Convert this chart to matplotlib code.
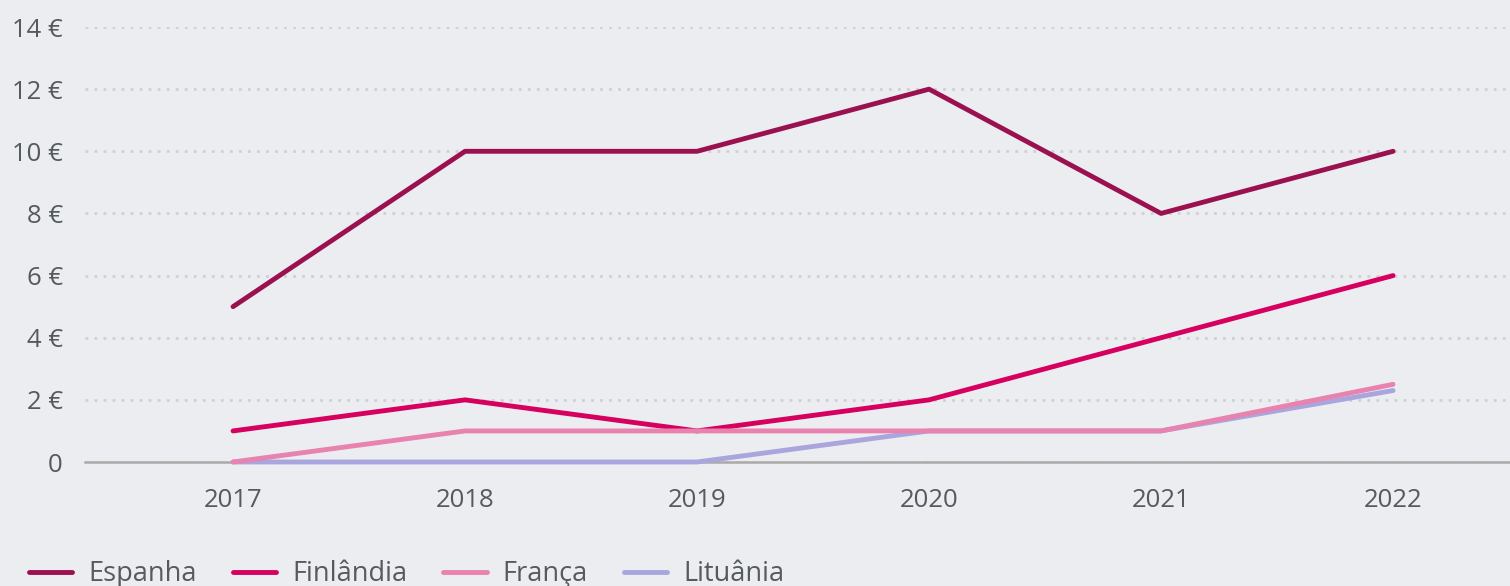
import matplotlib.pyplot as plt

# Data
years = [2017, 2018, 2019, 2020, 2021, 2022]
espanha = [5, 10, 10, 12, 8, 10]
finlandia = [1, 2, 1, 2, 4, 6]
franca = [0, 1, 1, 1, 1, 2.5]
lituania = [0, 0, 0, 1, 1, 2.3]
y_ticks = [0, 2, 4, 6, 8, 10, 12, 14]
y_labels = ['0', '2 €', '4 €', '6 €', '8 €', '10 €', '12 €', '14 €']

bg = '#ecedf1'
txt = '#555a5e'
plt.rcParams['font.family'] = ['Open Sans', 'DejaVu Sans']

fig = plt.figure(figsize=(15.1, 5.86), dpi=100, facecolor=bg)
ax = fig.add_axes([0.0563, 0.2116, 0.9437, 0.7423], facecolor=bg)

ax.plot(years, espanha, color='#9b1150', lw=3.5, label='Espanha', zorder=3,
        solid_capstyle='round')
ax.plot(years, finlandia, color='#d6005f', lw=3.5, label='Finlândia', zorder=3,
        solid_capstyle='round')
ax.plot(years, franca, color='#e882ae', lw=3.5, label='França', zorder=5,
        solid_capstyle='round')
ax.plot(years, lituania, color='#a9a6dd', lw=3.5, label='Lituânia', zorder=4,
        solid_capstyle='round')

ax.set_xlim(2016.362, 2022.504)
ax.set_ylim(0, 14)
ax.set_xticks(years)
ax.set_yticks(y_ticks)
ax.set_yticklabels(y_labels)
ax.tick_params(axis='both', length=0, labelsize=18.5, labelcolor=txt)
ax.tick_params(axis='x', pad=19)
ax.tick_params(axis='y', pad=16)

for s in ['top', 'right', 'left']:
    ax.spines[s].set_visible(False)
ax.spines['bottom'].set_color('#aaaaaa')
ax.spines['bottom'].set_linewidth(1.8)
ax.spines['bottom'].set_zorder(2)

ax.yaxis.grid(True, color='#cfd0d4', lw=2, linestyle=(0, (1, 2.25)))
ax.set_axisbelow(True)
for ln in ax.lines:
    ln.set_clip_on(False)

fig.legend(loc='lower left', bbox_to_anchor=(0.003, -0.045), ncol=4,
           frameon=False, fontsize=19.5, labelcolor=txt, handlelength=1.6,
           handletextpad=0.6, columnspacing=1.32)

fig.savefig('out.png', dpi=100, facecolor=bg)
